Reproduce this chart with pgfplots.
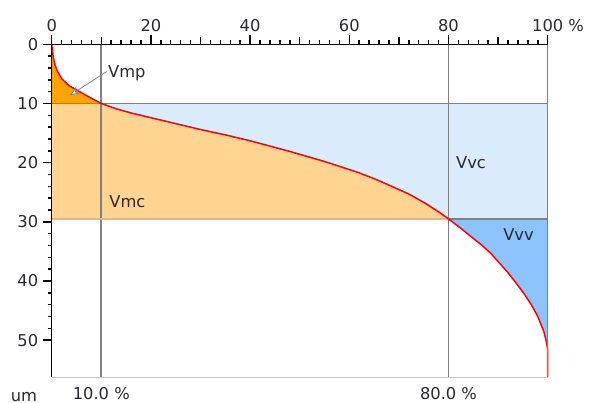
\documentclass[border=0pt]{standalone}
\usepackage{pgfplots}
\pgfplotsset{compat=1.18}
\usepackage{fontspec}
\setmainfont{DejaVu Sans}
\usetikzlibrary{calc,arrows.meta}
\definecolor{vmp}{RGB}{255,163,0}
\definecolor{vmc}{RGB}{255,213,145}
\definecolor{vvc}{RGB}{218,235,252}
\definecolor{vvv}{RGB}{140,195,250}
\definecolor{txt}{RGB}{40,40,45}
\definecolor{gline}{RGB}{128,128,128}
\begin{document}
\begin{tikzpicture}
\begin{axis}[
  scale only axis, width=496bp, height=333.2bp,
  xmin=0, xmax=100, ymin=0, ymax=56.3,
  y dir=reverse,
  clip=false,
  axis line style={draw=none},
  /pgf/number format/assume math mode=true,
  xtick={0,20,40,60,80,100},
  xticklabels={0,20,40,60,80,100\rlap{ \%}},
  minor x tick num=9,
  extra x ticks={10,30,50,70,90},
  extra x tick labels={},
  extra x tick style={major tick length=7bp},
  ytick={0,10,20,30,40,50},
  minor y tick num=4,
  xtick pos=right, xticklabel pos=right, ytick pos=left,
  tick align=outside,
  major tick length=9bp, minor tick length=4bp,
  every tick/.style={black, line width=1.5bp},
  ticklabel style={font=\fontsize{16.3bp}{19bp}\selectfont, text=txt},
  yticklabel style={xshift=-1bp},
]
% Vmp
\addplot[fill=vmp, draw=none] coordinates {
 (0,0) (0.15,1) (0.3,2.1) (0.6,3.3) (1,4.3) (2,5.8) (3.5,7.0) (5,7.7) (7.5,8.9) (10,10) (0,10)} -- cycle;
% Vmc
\addplot[fill=vmc, draw=none] coordinates {
 (0,10) (10,10) (13,10.9) (16,11.6) (20,12.4) (25,13.4) (30,14.4) (35,15.3) (40,16.3) (48,18.1) (55,19.8) (61.6,21.6) (65,22.7) (68.3,23.9) (72,25.3) (75,26.7) (78,28.3) (80,29.5) (0,29.5)} -- cycle;
% Vvc
\addplot[fill=vvc, draw=none] coordinates {
 (10,10) (100,10) (100,29.5) (80,29.5) (78,28.3) (75,26.7) (72,25.3) (68.3,23.9) (65,22.7) (61.6,21.6) (55,19.8) (48,18.1) (40,16.3) (35,15.3) (30,14.4) (25,13.4) (20,12.4) (16,11.6) (13,10.9)} -- cycle;
% Vvv
\addplot[fill=vvv, draw=none] coordinates {
 (80,29.5) (100,29.5) (100,51.7) (99.8,50.5) (99.2,48.5) (98,46.0) (96.7,44.0) (95.2,42.1) (93.6,40.3) (92,38.6) (90.2,36.9) (88.5,35.3) (86.8,34.0) (85,32.8) (82.5,31.1)} -- cycle;
% reference lines
\addplot[gline, line width=1.8bp] coordinates {(10,0) (10,56.3)};
\addplot[gline, line width=1.8bp] coordinates {(80,0) (80,56.3)};
\addplot[gline, line width=1.5bp] coordinates {(0,10) (100,10)};
\addplot[color={rgb,255:red,215;green,185;blue,140}, line width=1.3bp] coordinates {(0,29.5) (80,29.5)};
\addplot[gline, line width=1.5bp] coordinates {(80,29.5) (100,29.5)};
% bearing area curve
\addplot[red, line width=1.5bp, line join=round] coordinates {
 (0,0) (0.15,1) (0.3,2.1) (0.6,3.3) (1,4.3) (2,5.8) (3.5,7.0) (5,7.7) (7.5,8.9) (10,10)
 (13,10.9) (16,11.6) (20,12.4) (25,13.4) (30,14.4) (35,15.3) (40,16.3) (48,18.1) (55,19.8) (61.6,21.6) (65,22.7) (68.3,23.9) (72,25.3) (75,26.7) (78,28.3) (80,29.5)
 (82.5,31.1) (85,32.8) (86.8,34.0) (88.5,35.3) (90.2,36.9) (92,38.6) (93.6,40.3) (95.2,42.1) (96.7,44.0) (98,46.0) (99.2,48.5) (99.8,50.5) (100,51.7) (100,56.3)};
% frame
\draw[gline, line width=1.3bp] (axis cs:100,0) -- (axis cs:100,56.3);
\draw[color={rgb,255:red,200;green,200;blue,200}, line width=1.3bp] (axis cs:0,56.3) -- (axis cs:100,56.3);
\draw[black, line width=1.4bp] (axis cs:0,0) -- (axis cs:100,0);
\draw[black, line width=1.4bp] (axis cs:0,0) -- (axis cs:0,56.3);
% labels
\draw[gline, line width=0.8bp, -{Stealth[open,fill=white,length=10bp,width=8bp]}] (axis cs:11.1,4.6) -- (axis cs:3.7,8.6);
\begin{scope}[every node/.style={font=\fontsize{16.3bp}{19bp}\selectfont, text=txt, inner sep=0pt}]
\node[anchor=west] at (axis cs:11.35,4.9) {Vmp};
\node[anchor=west] at (axis cs:11.6,26.6) {Vmc};
\node[anchor=west] at (axis cs:81.5,20.0) {Vvc};
\node[anchor=west] at (axis cs:91.0,32.2) {Vvv};
\node at (axis cs:10,59.0) {10.0 \%};
\node at (axis cs:80,59.0) {80.0 \%};
\node at (axis cs:-5.6,59.6) {um};
\end{scope}
\end{axis}
\pgfresetboundingbox
\path[use as bounding box] ($(current axis.south west)+(-51.7bp,-25.5bp)$) rectangle ($(current axis.north east)+(45.3bp,44.3bp)$);
\end{tikzpicture}
\end{document}
